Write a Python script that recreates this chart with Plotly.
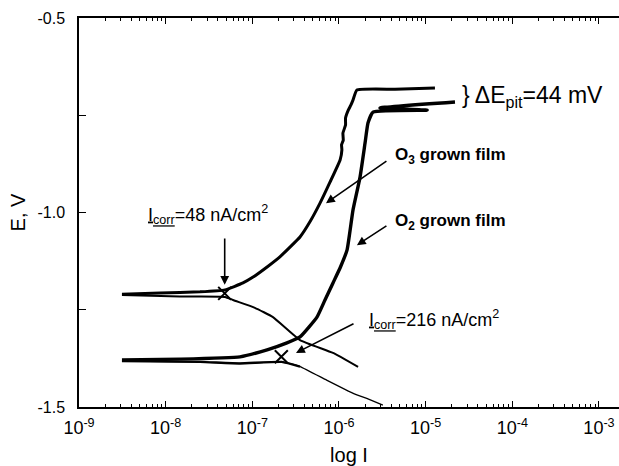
import numpy as np
import plotly.graph_objects as go

# Potentiodynamic polarization curves: current density I (A/cm^2) vs potential E (V)
# O3 grown film
o3_anodic_I = [3.13e-9, 8.6e-9, 2.49e-8, 4.84e-8, 7.8e-8, 1.02e-7, 1.52e-7, 2.08e-7,
               2.72e-7, 3.55e-7, 4.62e-7, 6.04e-7, 7.87e-7, 1.03e-6, 1.08e-6, 1.07e-6,
               1.12e-6, 1.11e-6, 1.19e-6, 1.19e-6, 1.28e-6, 1.37e-6, 1.45e-6, 1.61e-6,
               4.43e-6, 1.28e-5]
o3_anodic_E = [-1.210, -1.207, -1.204, -1.199, -1.181, -1.166, -1.138, -1.114,
               -1.089, -1.063, -1.024, -0.976, -0.922, -0.865, -0.839, -0.826,
               -0.814, -0.796, -0.775, -0.757, -0.737, -0.724, -0.711, -0.685,
               -0.683, -0.680]
o3_cathodic_I = [3.13e-9, 1.46e-8, 4.84e-8, 5.98e-8, 1.07e-7, 1.73e-7, 3.55e-7, 8.53e-7, 1.66e-6]
o3_cathodic_E = [-1.212, -1.216, -1.217, -1.225, -1.245, -1.269, -1.328, -1.361, -1.397]

# O2 grown film
o2_anodic_I = [3.13e-9, 1.46e-8, 7.21e-8, 1.48e-7, 2.51e-7, 3.55e-7, 5.57e-7, 6.89e-7,
               8.53e-7, 1.04e-6, 1.24e-6, 1.45e-6, 1.75e-6, 2.00e-6, 2.16e-6, 2.47e-6,
               1.04e-5, 2.97e-6, 2.18e-5]
o2_anodic_E = [-1.379, -1.377, -1.371, -1.353, -1.335, -1.320, -1.269, -1.225,
               -1.181, -1.140, -1.096, -0.994, -0.909, -0.821, -0.770, -0.742,
               -0.737, -0.731, -0.716]
o2_cathodic_I = [3.13e-9, 2.49e-8, 7.21e-8, 2.18e-7, 3.55e-7, 7.21e-7, 1.46e-6, 2.09e-6, 3.21e-6]
o2_cathodic_E = [-1.382, -1.384, -1.388, -1.384, -1.396, -1.431, -1.465, -1.478, -1.495]

# Corrosion points (I_corr, E_corr)
corr_I = [4.8e-8, 2.16e-7]
corr_E = [-1.208, -1.371]

x_tick_vals = [1e-9, 1e-8, 1e-7, 1e-6, 1e-5, 1e-4, 1e-3]
x_tick_text = ["10<sup>-9</sup>", "10<sup>-8</sup>", "10<sup>-7</sup>", "10<sup>-6</sup>",
               "10<sup>-5</sup>", "10<sup>-4</sup>", "10<sup>-3</sup>"]
y_tick_vals = [-1.5, -1.0, -0.5]
y_tick_text = ["-1.5", "-1.0", "-0.5"]
y_minor_vals = [-1.25, -0.75]
x_minor_vals = [m * 10.0 ** e for e in range(-9, -2) for m in range(2, 10)]

FONT = "Liberation Sans, Arial, Helvetica, sans-serif"

fig = go.Figure()

def add_line(xs, ys, width):
    fig.add_trace(go.Scatter(x=xs, y=ys, mode="lines",
                             line=dict(color="black", width=width, shape="spline",
                                       smoothing=0.4),
                             showlegend=False, hoverinfo="skip"))

add_line(o3_cathodic_I, o3_cathodic_E, 2.0)
add_line(o3_anodic_I, o3_anodic_E, 3.0)
add_line(o2_cathodic_I, o2_cathodic_E, 1.3)
add_line(o2_cathodic_I[:5], o2_cathodic_E[:5], 2.4)
add_line(o2_anodic_I, o2_anodic_E, 3.4)

fig.add_trace(go.Scatter(x=corr_I, y=corr_E, mode="markers",
                         marker=dict(symbol="x-thin", size=13,
                                     line=dict(color="black", width=2)),
                         showlegend=False, hoverinfo="skip"))

lg = np.log10

def arrow(x_tail, y_tail, x_head, y_head):
    fig.add_annotation(x=lg(x_head), y=y_head, ax=lg(x_tail), ay=y_tail,
                       xref="x", yref="y", axref="x", ayref="y", text="",
                       showarrow=True, arrowhead=2, arrowsize=1.1,
                       arrowwidth=1.6, arrowcolor="black")

def label(x, y, text, size, anchor="left"):
    fig.add_annotation(x=lg(x), y=y, xref="x", yref="y", text=text,
                       showarrow=False, xanchor=anchor, yanchor="middle",
                       font=dict(family=FONT, size=size, color="black"))

# I_corr markers with arrows
arrow(corr_I[0], -1.063, corr_I[0], -1.186)
label(3.07e-8, -1.006, "<u>I<sub>corr</sub></u>=48 nA/cm<sup>2</sup>", 18, "center")
arrow(1.53e-6, -1.284, 3.19e-7, -1.361)
label(2.10e-6, -1.276, "<u>I<sub>corr</sub></u>=216 nA/cm<sup>2</sup>", 18)

# Film labels
arrow(3.67e-6, -0.865, 7.08e-7, -0.976)
label(4.2e-6, -0.855, "<b>O<sub>3</sub> grown film</b>", 17)
arrow(3.67e-6, -1.032, 1.61e-6, -1.084)
label(4.2e-6, -1.024, "<b>O<sub>2</sub> grown film</b>", 17)

# Pitting potential difference
label(2.5e-5, -0.702, "} \u0394E<sub>pit</sub>=44 mV", 23)

fig.update_layout(
    width=619, height=466,
    margin=dict(l=79, r=0, t=18, b=59),
    paper_bgcolor="white", plot_bgcolor="white",
    font=dict(family=FONT, color="black"),
    xaxis=dict(
        type="log", range=[-9, -2.769],
        showgrid=False, zeroline=False,
        showline=True, linecolor="black", linewidth=1.5, mirror="ticks",
        ticks="inside", ticklen=6, tickwidth=1.3, tickcolor="black",
        tickmode="array", tickvals=x_tick_vals, ticktext=x_tick_text,
        tickfont=dict(family=FONT, size=18, color="black"),
        ticklabelstandoff=4,
        minor=dict(ticks="inside", ticklen=3.5, tickwidth=1.1, tickcolor="black",
                   tickmode="array", tickvals=x_minor_vals),
        title=dict(text="log I", font=dict(family=FONT, size=20, color="black"),
                   standoff=14),
    ),
    yaxis=dict(
        range=[-1.5, -0.5],
        showgrid=False, zeroline=False,
        showline=True, linecolor="black", linewidth=1.5, mirror=False,
        ticks="inside", ticklen=7, tickwidth=1.3, tickcolor="black",
        tickmode="array", tickvals=y_tick_vals, ticktext=y_tick_text,
        tickfont=dict(family=FONT, size=16, color="black"),
        ticklabelstandoff=9,
        minor=dict(ticks="inside", ticklen=7, tickwidth=1.3, tickcolor="black",
                   tickmode="array", tickvals=y_minor_vals),
        title=dict(text="E, V", font=dict(family=FONT, size=20, color="black"),
                   standoff=6),
    ),
)

fig.write_html("out.html")
